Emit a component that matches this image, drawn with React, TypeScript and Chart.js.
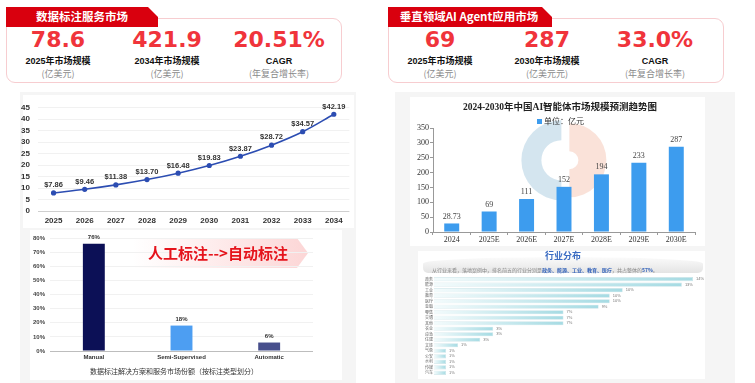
import React, { useEffect, useRef } from "react";
import { Chart, registerables } from "chart.js";
Chart.register(...registerables);

// ---------- data ----------
const leftTitle = "数据标注服务市场";
const leftCardValues = ["78.6", "421.9", "20.51%"];
const leftCardLabels = ["2025年市场规模", "2034年市场规模", "CAGR"];
const leftCardUnits = ["(亿美元)", "(亿美元)", "(年复合增长率)"];

const rightTitle = "垂直领域AI Agent应用市场";
const rightCardValues = ["69", "287", "33.0%"];
const rightCardLabels = ["2025年市场规模", "2030年市场规模", "CAGR"];
const rightCardUnits = ["(亿美元)", "(亿美元元)", "(年复合增长率)"];

const lineYears = ["2025", "2026", "2027", "2028", "2029", "2030", "2031", "2032", "2033", "2034"];
const lineValues = [7.86, 9.46, 11.38, 13.7, 16.48, 19.83, 23.87, 28.72, 34.57, 42.19];

const annoTypes = ["Manual", "Semi-Supervised", "Automatic"];
const annoShares = [76, 18, 6];
const annoColors = ["#0c1056", "#4d9ef2", "#474f8c"];
const annoCaption = "数据标注解决方案和服务市场份额（按标注类型划分）";
const bannerText = "人工标注-->自动标注";

const agentTitle = "2024-2030年中国AI智能体市场规模预测趋势图";
const agentLegend = "单位：亿元";
const agentYears = ["2024", "2025E", "2026E", "2027E", "2028E", "2029E", "2030E"];
const agentValues = [28.73, 69, 111, 152, 194, 233, 287];

const industryTitle = "行业分布";
const industries = ["政务", "能源", "工业", "教育", "医疗", "金融", "零售", "交通", "其他", "农业", "应急", "住建", "文旅", "气象", "公安", "水利", "传媒", "汽车"];
const industryBarLengths = [14, 13.4, 10.2, 9.5, 9.5, 8.9, 7, 7, 7, 3.2, 3.2, 2.5, 1.3, 0.65, 0.65, 0.65, 0.65, 0.65];
const industryShareLabels = ["14%", "13%", "10%", "10%", "10%", "9%", "7%", "7%", "7%", "3%", "3%", "3%", "1%", "1%", "1%", "1%", "1%", "1%"];

// ---------- helpers ----------
const SANS = '"Liberation Sans", "Noto Sans CJK SC", sans-serif';
const CJK = '"Noto Sans CJK SC", "Liberation Sans", sans-serif';
const SERIF = '"Liberation Serif", "DejaVu Serif", "Noto Sans CJK SC", serif';

function T(props: { x: number; y: number; children: any; style?: any }) {
  return (
    <div
      style={{
        position: "absolute",
        left: props.x,
        top: props.y,
        transform: "translate(-50%, -50%)",
        whiteSpace: "nowrap",
        lineHeight: 1,
        ...(props.style || {}),
      }}
    >
      {props.children}
    </div>
  );
}

function ChartBox(props: { left: number; top: number; width: number; height: number; make: () => any }) {
  const ref = useRef<HTMLCanvasElement>(null);
  useEffect(() => {
    const chart = new Chart(ref.current as HTMLCanvasElement, props.make());
    return () => chart.destroy();
  }, []);
  return (
    <canvas
      ref={ref}
      width={props.width}
      height={props.height}
      style={{ position: "absolute", left: props.left, top: props.top, width: props.width, height: props.height }}
    />
  );
}

function Card(props: {
  left: number; width: number; tabWidth: number; title: string; titleX: number;
  centers: number[]; values: string[]; labels: string[]; units: string[];
}) {
  const { left, width, tabWidth } = props;
  return (
    <>
      <div
        style={{
          position: "absolute", left, top: 18, width, height: 65, boxSizing: "border-box",
          border: "1.5px solid #f7cdd0", borderRadius: 9, background: "#fff",
        }}
      />
      <div
        style={{
          position: "absolute", left, top: 7, width: tabWidth, height: 20, background: "#d9000e",
          clipPath: `polygon(0 0, ${tabWidth - 10}px 0, ${tabWidth}px 10px, ${tabWidth}px 100%, 0 100%)`,
        }}
      />
      <T x={props.titleX} y={17} style={{ color: "#fff", fontFamily: CJK, fontWeight: 700, fontSize: 11.5 }}>
        {props.title}
      </T>
      {props.values.map((v, i) => (
        <React.Fragment key={i}>
          <T x={props.centers[i]} y={40} style={{ color: "#f0343b", fontFamily: '"DejaVu Sans", sans-serif', fontWeight: 700, fontSize: 22 }}>
            {v}
          </T>
          <T x={props.centers[i]} y={61} style={{ color: "#111", fontFamily: SANS, fontWeight: 700, fontSize: 9 }}>
            {props.labels[i]}
          </T>
          <T x={props.centers[i]} y={73} style={{ color: "#8a8a8a", fontFamily: CJK, fontSize: 9 }}>
            {props.units[i]}
          </T>
        </React.Fragment>
      ))}
    </>
  );
}

// ---------- chart configs ----------
const lineLabelPlugin = {
  id: "lineLabels",
  afterDatasetsDraw(chart: any) {
    const ctx = chart.ctx;
    const meta = chart.getDatasetMeta(0);
    ctx.save();
    ctx.font = `bold 7.5px ${SANS}`;
    ctx.fillStyle = "#333";
    ctx.textAlign = "center";
    ctx.textBaseline = "bottom";
    meta.data.forEach((pt: any, i: number) => {
      ctx.fillText("$" + lineValues[i].toFixed(2), pt.x, pt.y - 4);
    });
    ctx.restore();
  },
};

function makeLine() {
  return {
    type: "line",
    data: {
      labels: lineYears,
      datasets: [
        {
          data: lineValues,
          borderColor: "#2c4db2",
          backgroundColor: "#2c4db2",
          borderWidth: 1.6,
          tension: 0.35,
          pointRadius: 1.8,
        },
      ],
    },
    options: {
      responsive: false,
      animation: false,
      layout: { padding: { top: 10, right: 5, left: 0, bottom: 0 } },
      plugins: { legend: { display: false }, tooltip: { enabled: false } },
      scales: {
        x: {
          offset: true,
          grid: { display: false, drawTicks: false },
          border: { display: false },
          ticks: { font: { family: SANS, size: 8, weight: "bold" }, color: "#333", padding: 5 },
          afterFit: (s: any) => { s.height = 19; },
        },
        y: {
          min: 0, max: 45,
          ticks: { stepSize: 5, autoSkip: false, font: { family: SANS, size: 8, weight: "bold" }, color: "#333", padding: 8 },
          grid: { color: (c: any) => (c.tick && c.tick.value === 0 ? "#cfcfcf" : "#f1f1f1"), drawTicks: false },
          border: { display: false },
          afterFit: (s: any) => { s.width = 18; },
        },
      },
    },
    plugins: [lineLabelPlugin],
  };
}

const annoLabelPlugin = {
  id: "annoLabels",
  afterDatasetsDraw(chart: any) {
    const ctx = chart.ctx;
    const meta = chart.getDatasetMeta(0);
    ctx.save();
    ctx.font = `bold 6px ${SANS}`;
    ctx.fillStyle = "#333";
    ctx.textAlign = "center";
    ctx.textBaseline = "bottom";
    meta.data.forEach((b: any, i: number) => ctx.fillText(annoShares[i] + "%", b.x, b.y - 3));
    ctx.restore();
  },
};

function makeAnno() {
  return {
    type: "bar",
    data: {
      labels: annoTypes,
      datasets: [{ data: annoShares, backgroundColor: annoColors, barPercentage: 0.25, categoryPercentage: 1 }],
    },
    options: {
      responsive: false,
      animation: false,
      layout: { padding: { top: 13, right: 7, left: 0, bottom: 0 } },
      plugins: { legend: { display: false }, tooltip: { enabled: false } },
      scales: {
        x: {
          grid: { display: false, drawTicks: false },
          border: { display: false },
          ticks: { font: { family: SANS, size: 6, weight: "bold" }, color: "#333", padding: 3 },
          afterFit: (s: any) => { s.height = 14; },
        },
        y: {
          min: 0, max: 80,
          ticks: { stepSize: 10, autoSkip: false, callback: (v: any) => v + "%", font: { family: SANS, size: 6, weight: "bold" }, color: "#444", padding: 5 },
          grid: { color: (c: any) => (c.tick && c.tick.value === 0 ? "#bdbdbd" : "#f1f1f1"), drawTicks: false },
          border: { display: false },
          afterFit: (s: any) => { s.width = 30; },
        },
      },
    },
    plugins: [annoLabelPlugin],
  };
}

const watermarkPlugin = {
  id: "watermark",
  beforeDatasetsDraw(chart: any) {
    const c = chart.ctx;
    const a = chart.chartArea;
    const cx = a.left + (a.right - a.left) * 0.49;
    const cy = a.top + (a.bottom - a.top) * 0.31;
    c.save();
    c.fillStyle = "rgba(176, 207, 226, 0.55)";
    c.beginPath();
    c.arc(cx, cy, 40, Math.PI / 2, Math.PI * 1.5);
    c.arc(cx, cy, 20, Math.PI * 1.5, Math.PI / 2, true);
    c.closePath();
    c.fill();
    c.fillStyle = "rgba(246, 198, 180, 0.5)";
    c.beginPath();
    c.arc(cx + 8, cy, 37, -Math.PI / 2, Math.PI / 2);
    c.arc(cx + 8, cy, 9, Math.PI / 2, -Math.PI / 2, true);
    c.closePath();
    c.fill();
    c.restore();
  },
  afterDatasetsDraw(chart: any) {
    const ctx = chart.ctx;
    const meta = chart.getDatasetMeta(0);
    ctx.save();
    ctx.font = `8px ${SERIF}`;
    ctx.fillStyle = "#444";
    ctx.textAlign = "center";
    ctx.textBaseline = "bottom";
    meta.data.forEach((b: any, i: number) => ctx.fillText(String(agentValues[i]), b.x, b.y - 3));
    ctx.restore();
  },
};

function makeAgent() {
  return {
    type: "bar",
    data: {
      labels: agentYears,
      datasets: [{ data: agentValues, backgroundColor: "#3d9cee", barPercentage: 0.4, categoryPercentage: 1 }],
    },
    options: {
      responsive: false,
      animation: false,
      layout: { padding: { top: 31, right: 10, left: 0, bottom: 0 } },
      plugins: { legend: { display: false }, tooltip: { enabled: false } },
      scales: {
        x: {
          grid: { drawOnChartArea: false, drawTicks: true, tickLength: 3, color: "#999" },
          border: { display: true, color: "#999" },
          ticks: { font: { family: SERIF, size: 8 }, color: "#333", padding: 0 },
          afterFit: (s: any) => { s.height = 15; },
        },
        y: {
          min: 0, max: 350,
          ticks: { stepSize: 50, autoSkip: false, font: { family: SERIF, size: 8 }, color: "#333", padding: 1 },
          grid: { drawOnChartArea: false, drawTicks: true, tickLength: 3, color: "#999" },
          border: { display: true, color: "#999" },
          afterFit: (s: any) => { s.width = 23; },
        },
      },
    },
    plugins: [watermarkPlugin],
  };
}

const industryLabelPlugin = {
  id: "industryLabels",
  afterDatasetsDraw(chart: any) {
    const ctx = chart.ctx;
    const meta = chart.getDatasetMeta(0);
    ctx.save();
    ctx.font = `4px ${SANS}`;
    ctx.fillStyle = "#777";
    ctx.textAlign = "left";
    ctx.textBaseline = "middle";
    meta.data.forEach((b: any, i: number) => ctx.fillText(industryShareLabels[i], b.x + 3, b.y));
    ctx.restore();
  },
};

function makeIndustry() {
  return {
    type: "bar",
    data: {
      labels: industries,
      datasets: [
        {
          data: industryBarLengths,
          barPercentage: 0.75,
          categoryPercentage: 1,
          borderWidth: 0.6,
          borderColor: "rgba(200,225,230,0.9)",
          backgroundColor: (c: any) => {
            const chart = c.chart;
            const area = chart.chartArea;
            const xs = chart.scales && chart.scales.x;
            if (!area || !xs || c.raw == null) return "#bfe4ea";
            const end = xs.getPixelForValue(c.raw);
            const g = chart.ctx.createLinearGradient(area.left, 0, Math.max(end, area.left + 1), 0);
            g.addColorStop(0, "#f3fbfc");
            g.addColorStop(1, "#a6dbe3");
            return g;
          },
        },
      ],
    },
    options: {
      indexAxis: "y",
      responsive: false,
      animation: false,
      layout: { padding: { top: 1.2, right: 12, left: 7, bottom: 1.2 } },
      plugins: { legend: { display: false }, tooltip: { enabled: false } },
      scales: {
        x: { display: false, min: 0, max: 14 },
        y: {
          grid: { display: false, drawTicks: false },
          border: { display: false },
          ticks: { autoSkip: false, crossAlign: "far", font: { family: CJK, size: 4 }, color: "#666", padding: 0 },
          afterFit: (s: any) => { s.width = 9; },
        },
      },
    },
    plugins: [industryLabelPlugin],
  };
}

// ---------- app ----------
export default function App() {
  return (
    <div style={{ position: "absolute", left: 0, top: 0, width: 755, height: 383, background: "#fff", overflow: "hidden" }}>
      <Card
        left={6} width={336} tabWidth={152} title={leftTitle} titleX={82}
        centers={[58, 167, 279]} values={leftCardValues} labels={leftCardLabels} units={leftCardUnits}
      />
      <Card
        left={388} width={336} tabWidth={164} title={rightTitle} titleX={469}
        centers={[440, 547, 655]} values={rightCardValues} labels={rightCardLabels} units={rightCardUnits}
      />

      {/* left panel */}
      <div style={{ position: "absolute", left: 20, top: 92, width: 336, height: 291, background: "#f5f5f5" }} />
      <div style={{ position: "absolute", left: 23, top: 95, width: 331, height: 133, background: "#fff" }} />
      <div style={{ position: "absolute", left: 30, top: 230, width: 312, height: 150, background: "#fff" }} />
      <ChartBox left={20} top={95} width={335} height={135} make={makeLine} />
      <div
        style={{
          position: "absolute", left: 133, top: 238, width: 175, height: 30,
          background: "linear-gradient(to right, rgba(253,228,228,0), rgba(252,212,212,0.95))",
          clipPath: "polygon(0 0, calc(100% - 11px) 0, 100% 50%, calc(100% - 11px) 100%, 0 100%)",
        }}
      />
      <ChartBox left={20} top={225} width={300} height={140} make={makeAnno} />
      <T x={218} y={252} style={{ color: "#e5141c", fontFamily: CJK, fontWeight: 700, fontSize: 15 }}>
        {bannerText}
      </T>
      <T x={174} y={371} style={{ color: "#333", fontFamily: CJK, fontSize: 7 }}>
        {annoCaption}
      </T>

      {/* right panel */}
      <div style={{ position: "absolute", left: 395, top: 92, width: 340, height: 291, background: "#f5f5f5" }} />
      <div style={{ position: "absolute", left: 410, top: 97, width: 295, height: 149, background: "#fff" }} />
      <ChartBox left={410} top={97} width={295} height={150} make={makeAgent} />
      <T x={560} y={108} style={{ color: "#222", fontFamily: SERIF, fontWeight: 700, fontSize: 9.5 }}>
        {agentTitle}
      </T>
      <div style={{ position: "absolute", left: 537, top: 118.5, width: 5, height: 5, background: "#3d9cee" }} />
      <div style={{ position: "absolute", left: 544, top: 121, transform: "translateY(-50%)", lineHeight: 1, whiteSpace: "nowrap", color: "#333", fontFamily: CJK, fontSize: 8 }}>
        {agentLegend}
      </div>

      <div style={{ position: "absolute", left: 418, top: 251, width: 287, height: 128, background: "#fff" }} />
      <div
        style={{
          position: "absolute", left: 423, top: 257, width: 280, height: 16,
          background: "linear-gradient(to bottom, #fbfbfb, #e4e4e4)",
          borderRadius: "60% 60% 6px 6px / 8px 8px 6px 6px",
        }}
      />
      <T x={563} y={255} style={{ color: "#3b6cc2", fontFamily: CJK, fontWeight: 700, fontSize: 9 }}>
        {industryTitle}
      </T>
      <div style={{ position: "absolute", left: 432, top: 269, transform: "translateY(-50%)", lineHeight: 1, whiteSpace: "nowrap", color: "#888", fontFamily: CJK, fontSize: 5 }}>
        从行业来看，落地案例中，排名前五的行业分别是
        <span style={{ color: "#2f5fb8", fontWeight: 700 }}>政务、能源、工业、教育、医疗</span>
        ，共占整体的<span style={{ color: "#2f5fb8", fontWeight: 700 }}>57%</span>。
      </div>
      <ChartBox left={418} top={274} width={287} height={104} make={makeIndustry} />
    </div>
  );
}
